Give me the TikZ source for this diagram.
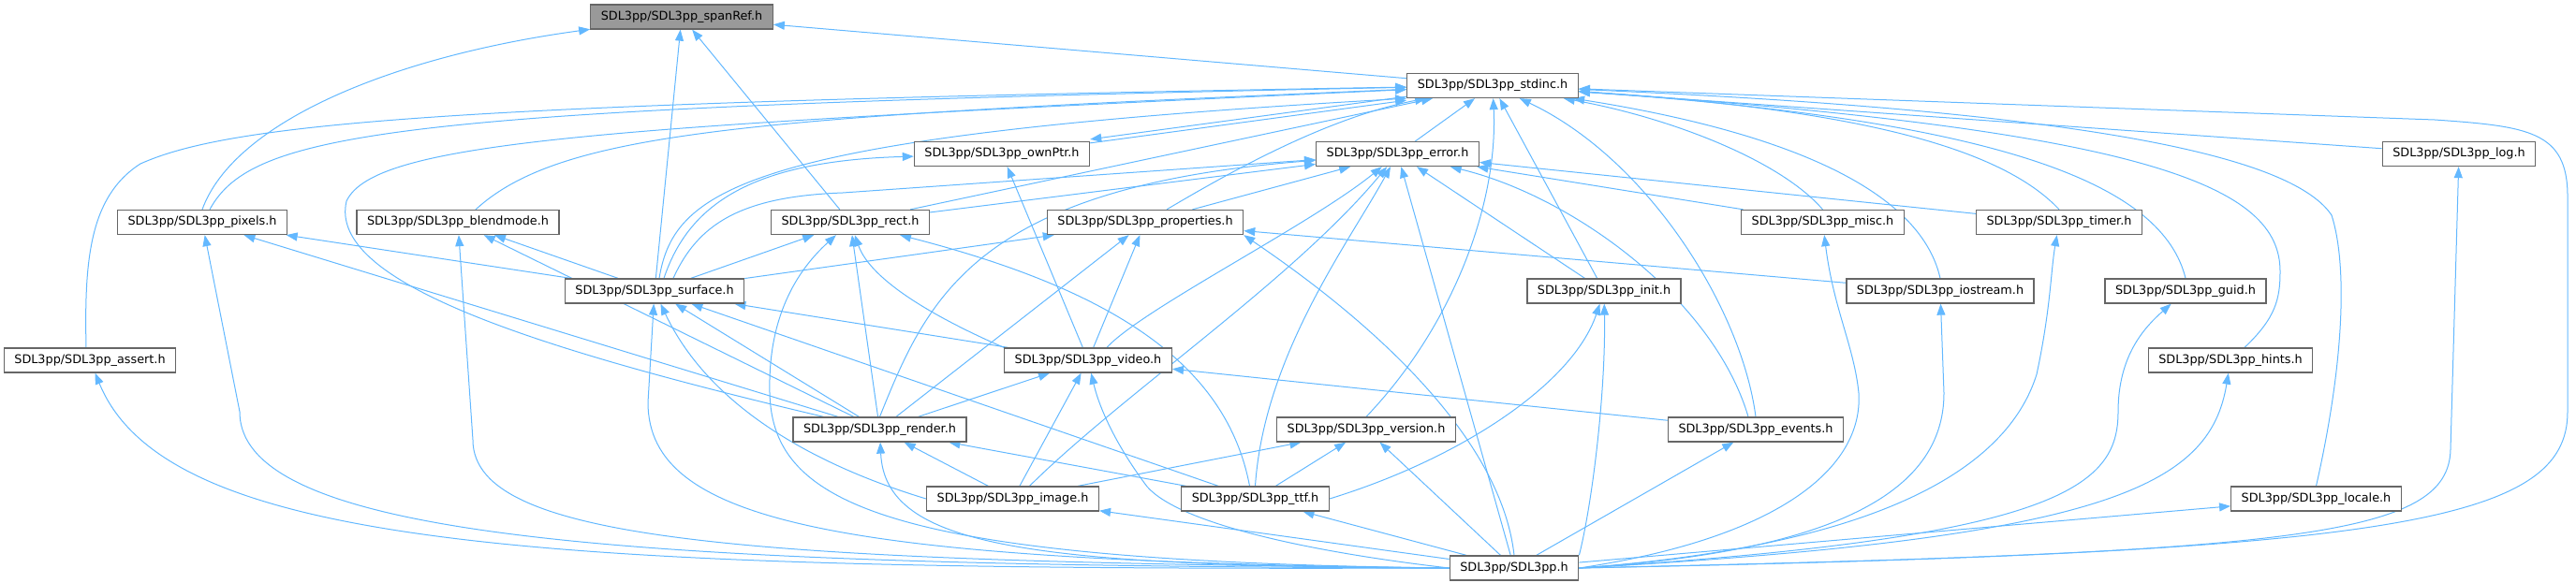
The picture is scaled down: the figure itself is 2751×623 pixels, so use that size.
\documentclass[tikz,border=0pt]{standalone}
\usepackage{fontspec}
\setmainfont{DejaVu Sans}
\usetikzlibrary{arrows.meta}
\definecolor{edgeblue}{HTML}{63B8FF}
\definecolor{nodegray}{HTML}{666666}
\definecolor{rootgray}{HTML}{999999}
\pgfdeclarelayer{bg}
\pgfsetlayers{bg,main}

\begin{document}
\begin{tikzpicture}[
  x=1pt, y=-1pt,
  font=\fontsize{12.8}{15}\selectfont,
  box/.style={draw=nodegray,line width=1.3pt,fill=white,inner xsep=11pt,inner ysep=0pt,minimum height=26pt},
  root/.style={box,fill=rootgray},
  ar/.style={-{Triangle[length=12pt,width=9pt]},edgeblue,line width=1pt}]

\useasboundingbox (0,0) rectangle (2751,623);

% row by row, as the include graph lays them out
\node[root] (spanref) at (728,18) {SDL3pp/SDL3pp\_spanRef.h};
\node[box] (stdinc) at (1594,91.5) {SDL3pp/SDL3pp\_stdinc.h};
\node[box] (ownptr) at (1070,164.5) {SDL3pp/SDL3pp\_ownPtr.h};
\node[box] (error) at (1492.5,164.5) {SDL3pp/SDL3pp\_error.h};
\node[box] (log) at (2626,164.5) {SDL3pp/SDL3pp\_log.h};
\node[box] (pixels) at (216,237.5) {SDL3pp/SDL3pp\_pixels.h};
\node[box] (blend) at (489,237.5) {SDL3pp/SDL3pp\_blendmode.h};
\node[box] (rect) at (908,237.5) {SDL3pp/SDL3pp\_rect.h};
\node[box] (props) at (1223,237.5) {SDL3pp/SDL3pp\_properties.h};
\node[box] (misc) at (1946.5,237.5) {SDL3pp/SDL3pp\_misc.h};
\node[box] (timer) at (2199,237.5) {SDL3pp/SDL3pp\_timer.h};
\node[box] (surface) at (699,311) {SDL3pp/SDL3pp\_surface.h};
\node[box] (init) at (1713,311) {SDL3pp/SDL3pp\_init.h};
\node[box] (iostream) at (2072,311) {SDL3pp/SDL3pp\_iostream.h};
\node[box] (guid) at (2334,311) {SDL3pp/SDL3pp\_guid.h};
\node[box] (assert) at (96,385) {SDL3pp/SDL3pp\_assert.h};
\node[box] (video) at (1162,385) {SDL3pp/SDL3pp\_video.h};
\node[box] (hints) at (2382,385) {SDL3pp/SDL3pp\_hints.h};
\node[box] (render) at (939.5,459) {SDL3pp/SDL3pp\_render.h};
\node[box] (version) at (1459,459) {SDL3pp/SDL3pp\_version.h};
\node[box] (events) at (1875,459) {SDL3pp/SDL3pp\_events.h};
\node[box] (image) at (1081.5,533) {SDL3pp/SDL3pp\_image.h};
\node[box] (ttf) at (1340.5,533) {SDL3pp/SDL3pp\_ttf.h};
\node[box] (locale) at (2473.5,533) {SDL3pp/SDL3pp\_locale.h};
\node[box] (sdl) at (1617,607) {SDL3pp/SDL3pp.h};

\begin{pgfonlayer}{bg}
% straight includes
\foreach \a/\b in {stdinc/spanref,surface/spanref,rect/spanref,
  error/stdinc,log/stdinc,init/stdinc,rect/stdinc,
  rect/error,props/error,init/error,misc/error,timer/error,
  surface/pixels,surface/blend,surface/rect,surface/props,
  render/pixels,render/blend,render/surface,render/rect,render/props,render/video,
  video/surface,video/ownptr,video/props,
  image/render,image/video,image/version,
  ttf/render,ttf/surface,ttf/version,
  iostream/props,events/video,
  sdl/image,sdl/ttf,sdl/version,sdl/error,sdl/events,sdl/locale}
  \draw[ar] (\a) -- (\b);

\draw[ar] ([yshift=-2]ownptr.north east) -- ([yshift=-2]stdinc.south west);
\draw[ar] ([yshift=2]stdinc.south west) -- ([yshift=2]ownptr.north east);

% curved includes, upper left
\draw[ar] (pixels.north) .. controls (250,130) and (420,60) .. (spanref);
\draw[ar] ([xshift=8]pixels.north) .. controls (270,140) and (420,115) .. (stdinc);
\draw[ar] ([xshift=-4]assert.north) .. controls (90,280) and (95,210) .. (150,175)
  .. controls (250,130) and (500,110) .. (stdinc);
\draw[ar] ([xshift=19]blend.north) .. controls (600,140) and (800,125) .. (stdinc);
\draw[ar] ([xshift=-60]render.north) .. controls (560,370) and (350,300) .. (370,215)
  .. controls (400,150) and (650,135) .. (stdinc);
\draw[ar] ([xshift=5]surface.north) .. controls (720,200) and (800,145) .. (stdinc.south west);
\draw[ar] ([xshift=10]surface.north) .. controls (735,220) and (800,172) .. (ownptr);
\draw[ar] ([xshift=20]surface.north) .. controls (745,240) and (790,210) .. (900,206) -- (error);
\draw[ar] (render.north) .. controls (990,320) and (1040,200) .. (error);
\draw[ar] ([xshift=23]props.north) .. controls (1320,180) and (1420,125) .. (stdinc);
\draw[ar] (video.north west) .. controls (1000,340) and (930,300) .. (rect);
\draw[ar] ([xshift=20]video.north) .. controls (1220,330) and (1400,240) .. (error);
\draw[ar] ([xshift=18]image.north) .. controls (1200,420) and (1380,300) .. (error);
\draw[ar] (ttf.north) .. controls (1350,380) and (1440,260) .. (error);
\draw[ar] ([xshift=-6]ttf.north) .. controls (1310,390) and (1190,310) .. (rect);
\draw[ar] (ttf.east) .. controls (1560,490) and (1680,410) .. (init);
\draw[ar] (image.west) .. controls (880,500) and (760,440) .. (surface);

% curved includes, upper right
\draw[ar] (version.north) .. controls (1550,350) and (1600,220) .. (stdinc);
\draw[ar] (events.north) .. controls (1860,330) and (1760,170) .. (stdinc);
\draw[ar] ([xshift=-8]events.north) .. controls (1830,320) and (1680,210) .. (error);
\draw[ar] (misc.north) .. controls (1900,170) and (1780,125) .. (stdinc);
\draw[ar] (iostream.north) .. controls (2050,200) and (1900,140) .. (stdinc);
\draw[ar] (timer.north) .. controls (2130,150) and (1950,115) .. (stdinc);
\draw[ar] (guid.north) .. controls (2310,200) and (2150,130) .. (stdinc);
\draw[ar] ([xshift=15]hints.north) .. controls (2430,340) and (2435,320) .. (2435,290)
  .. controls (2435,200) and (2300,140) .. (stdinc);
\draw[ar] (locale.north) .. controls (2505,380) and (2506,280) .. (2490,230)
  .. controls (2450,170) and (2250,120) .. (stdinc);

% curved includes from SDL3pp.h
\draw[ar] (sdl.east) .. controls (2550,590) and (2742,560) .. (2742,440) -- (2742,210)
  .. controls (2742,140) and (2700,135) .. (2600,128) -- (stdinc);
\draw[ar] (sdl.east) .. controls (2450,590) and (2615,575) .. (2617,480) -- (log);
\draw[ar] (sdl.east) .. controls (2250,575) and (2360,520) .. (hints);
\draw[ar] (sdl.east) .. controls (2200,575) and (2262,520) .. (2262,440)
  .. controls (2262,380) and (2290,350) .. (guid);
\draw[ar] (sdl.east) .. controls (2050,580) and (2150,480) .. (2175,400)
  .. controls (2190,330) and (2190,290) .. (timer);
\draw[ar] (sdl.east) .. controls (1950,590) and (2076,530) .. (2076,420) -- (iostream);
\draw[ar] (sdl.east) .. controls (1900,575) and (1990,500) .. (1985,420)
  .. controls (1980,370) and (1958,330) .. (misc);
\draw[ar] (sdl.north east) .. controls (1700,540) and (1715,420) .. (init);
\draw[ar] (sdl.north) .. controls (1600,440) and (1400,300) .. (props.south east);
\draw[ar] (sdl.west) .. controls (1400,590) and (1260,560) .. (1225,520)
  .. controls (1195,480) and (1175,440) .. (video);
\draw[ar] (sdl.west) .. controls (1100,605) and (945,585) .. (render);
\draw[ar] (sdl.west) .. controls (950,600) and (825,540) .. (822,420)
  .. controls (820,340) and (850,290) .. (rect);
\draw[ar] (sdl.west) .. controls (900,600) and (692,560) .. (692,430) -- (surface);
\draw[ar] (sdl.west) .. controls (800,600) and (505,580) .. (505,470) -- (blend);
\draw[ar] (sdl.west) .. controls (700,605) and (256,580) .. (256,440) -- (pixels);
\draw[ar] (sdl.west) .. controls (600,610) and (180,590) .. (assert);
\end{pgfonlayer}
\end{tikzpicture}
\end{document}
